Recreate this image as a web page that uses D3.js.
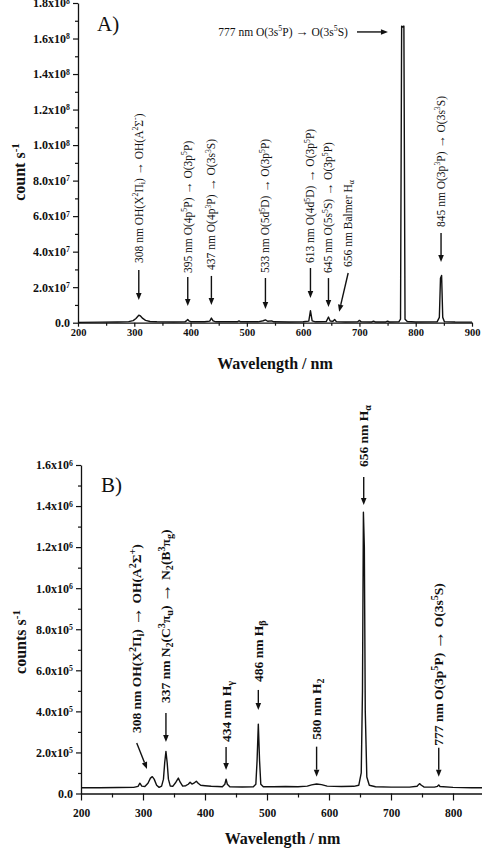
<!DOCTYPE html>
<html><head><meta charset="utf-8">
<script src="https://cdn.jsdelivr.net/npm/d3@7"></script>
<style>body{margin:0;background:#fff}svg{display:block;background:#fff}</style>
</head><body><svg id="c" width="482" height="854"></svg>
<script>
// ---------- DATA ----------
// Panel A spectrum (wavelength nm, counts s^-1)
const topWavelength = [200,240,270,290,298,303,308,311,315,320,328,340,370,390,393,395,397,401,425,434,437,440,445,483,486,489,520,529,533,537,544,548,575,600,610,613,616,622,641,645,648,653,656,659,675,697,700,703,722,725,728,747,750,753,770,773,775,777,779,781,785,800,838,842,844,846,848,851,870,900];
const topCounts = [2e5,3e5,4e5,6e5,1.2e6,2.4e6,4.2e6,3.8e6,2.4e6,1.3e6,7e5,5e5,4e5,5e5,1.2e6,1.8e6,1.0e6,5e5,5e5,9e5,2.6e6,1.0e6,5e5,5e5,1.0e6,5e5,5e5,1.1e6,1.6e6,8e5,1.0e6,5e5,4e5,5e5,9e5,6.8e6,1.0e6,5e5,6e5,3.2e6,9e5,8e5,1.8e6,6e5,4e5,5e5,1.3e6,5e5,4e5,9e5,4e5,4e5,9e5,4e5,5e5,2e6,1.67e8,1.665e8,1.67e8,2e6,7e5,4e5,5e5,3e6,2.5e7,2.66e7,3e6,6e5,4e5,3e5];
// Panel B spectrum
const botWavelength = [200,230,260,285,292,295,298,303,308,312,315,318,322,326,330,333,335,337,339,341,344,348,353,357,360,364,369,373,376,379,382,386,389,393,400,410,420,428,432,434,436,440,460,478,482,484,486,488,490,494,510,530,550,565,572,580,588,597,620,640,648,652,654,655.5,657,658.5,661,665,675,700,730,742,746,749,753,770,775,777,779,800,830,850];
const botCounts = [2.8e4,2.8e4,2.9e4,3.0e4,3.5e4,5.0e4,3.6e4,3.4e4,5.0e4,7.5e4,8.2e4,7.0e4,4.0e4,3.0e4,3.6e4,7.0e4,1.5e5,2.05e5,1.5e5,7.0e4,3.6e4,3.5e4,5.5e4,7.5e4,5.5e4,3.6e4,3.8e4,4.5e4,5.5e4,4.6e4,5.0e4,6.0e4,5.0e4,4.0e4,3.8e4,3.5e4,3.4e4,3.3e4,4.5e4,7.0e4,4.5e4,3.3e4,3.2e4,3.3e4,4.5e4,1.6e5,3.38e5,1.6e5,4.5e4,3.3e4,3.3e4,3.4e4,3.3e4,3.6e4,4.2e4,4.6e4,4.3e4,3.6e4,3.4e4,3.5e4,4.0e4,1.0e5,5.0e5,1.37e6,1.2e6,4.0e5,8.0e4,4.0e4,3.3e4,3.1e4,3.1e4,3.5e4,4.8e4,4.0e4,3.2e4,3.1e4,3.5e4,4.2e4,3.4e4,3.0e4,2.8e4,2.8e4];

// Axis ticks and labels
const topXTicks = [200,300,400,500,600,700,800,900];
const topXMinor = [250,350,450,550,650,750,850];
const topYTicks = [0,2e7,4e7,6e7,8e7,1e8,1.2e8,1.4e8,1.6e8,1.8e8];
const topYTickLabels = ["0.0","2.0x10^7","4.0x10^7","6.0x10^7","8.0x10^7","1.0x10^8","1.2x10^8","1.4x10^8","1.6x10^8","1.8x10^8"];
const topYMinor = [1e7,3e7,5e7,7e7,9e7,1.1e8,1.3e8,1.5e8,1.7e8];
const botXTicks = [200,300,400,500,600,700,800];
const botXMinor = [250,350,450,550,650,750];
const botYTicks = [0,2e5,4e5,6e5,8e5,1e6,1.2e6,1.4e6,1.6e6];
const botYTickLabels = ["0.0","2.0x10^5","4.0x10^5","6.0x10^5","8.0x10^5","1.0x10^6","1.2x10^6","1.4x10^6","1.6x10^6"];
const botYMinor = [1e5,3e5,5e5,7e5,9e5,1.1e6,1.3e6,1.5e6];

// Annotation labels (wavelength of the line, text)
const topLabels = [
  [308, "308 nm OH(X^{2}Π_{i}) → OH(A^{2}Σ^{-})"],
  [395, "395 nm O(4p^{5}P) → O(3p^{5}P)"],
  [437, "437 nm O(4p^{3}P) → O(3s^{3}S)"],
  [533, "533 nm O(5d^{5}D) → O(3p^{5}P)"],
  [613, "613 nm O(4d^{5}D) → O(3p^{5}P)"],
  [645, "645 nm O(5s^{5}S) → O(3p^{5}P)"],
  [656, "656 nm Balmer H_{α}"],
  [845, "845 nm O(3p^{3}P) → O(3s^{3}S)"],
  [777, "777 nm O(3s^{5}P) → O(3s^{5}S)"]
];
const botLabels = [
  [308, "308 nm OH(X^{2}Π_{i}) → OH(A^{2}Σ^{+})"],
  [337, "337 nm N_{2}(C^{3}π_{u}) → N_{2}(B^{3}π_{g})"],
  [434, "434 nm H_{γ}"],
  [486, "486 nm H_{β}"],
  [580, "580 nm H_{2}"],
  [656, "656 nm H_{α}"],
  [777, "777 nm O(3p^{5}P) → O(3s^{5}S)"]
];

// ---------- LAYOUT (arrow tips in data coords, offsets in px) ----------
const topArrowLayout = [
  {tipX:308, tipY:1.28e7, dx:0, dy:-30, gap:7},
  {tipX:395, tipY:0.94e7, dx:0, dy:-29, gap:4},
  {tipX:437, tipY:1.0e7, dx:0, dy:-29, gap:6},
  {tipX:533, tipY:0.77e7, dx:0, dy:-31, gap:5},
  {tipX:613, tipY:1.39e7, dx:0, dy:-30, gap:5},
  {tipX:645, tipY:0.88e7, dx:0, dy:-29, gap:5},
  {tipX:664, tipY:0.62e7, dx:9, dy:-38.7, gap:6},
  {tipX:845, tipY:3.42e7, dx:0, dy:-29, gap:6},
  {tipX:750.7, tipY:1.637e8, dx:-31, dy:0, gap:9, horizontal:true}
];
const botArrowLayout = [
  {tipX:306.5, tipY:1.19e5, dx:-10.3, dy:-26, gap:10},
  {tipX:337, tipY:2.51e5, dx:0, dy:-29, gap:10},
  {tipX:434, tipY:1.14e5, dx:0, dy:-23, gap:5},
  {tipX:486, tipY:4.07e5, dx:0, dy:-20, gap:8},
  {tipX:580, tipY:0.82e5, dx:0, dy:-30, gap:7},
  {tipX:656, tipY:14.05e5, dx:0, dy:-28, gap:10},
  {tipX:777, tipY:0.82e5, dx:0, dy:-29, gap:2}
];

// ---------- DRAW ----------
const svg = d3.select("#c");
const SERIF = "'Liberation Serif','Times New Roman',serif";

function richText(textSel, str, fs, scriptScale, arrowScale) {
  const re = /\^\{([^}]*)\}|_\{([^}]*)\}|(→)|([^^_→]+)/g;
  let m, cur = 0;
  while ((m = re.exec(str))) {
    let target, txt, size = fs;
    if (m[1] !== undefined) { target = -0.38 * fs; txt = m[1]; size = fs * scriptScale; }
    else if (m[2] !== undefined) { target = 0.22 * fs; txt = m[2]; size = fs * scriptScale; }
    else if (m[3] !== undefined) { target = 0.04 * fs; txt = m[3]; size = fs * arrowScale; }
    else { target = 0; txt = m[4]; }
    textSel.append("tspan").attr("dy", target - cur).attr("font-size", size).text(txt);
    cur = target;
  }
}

function arrow(g, x1, y1, x2, y2) {
  const ang = Math.atan2(y2 - y1, x2 - x1);
  const hl = 7, hw = 2.8;
  const bx = x2 - hl * Math.cos(ang), by = y2 - hl * Math.sin(ang);
  g.append("line").attr("x1", x1).attr("y1", y1).attr("x2", bx).attr("y2", by)
    .attr("stroke", "#111").attr("stroke-width", 1.4);
  const px = -Math.sin(ang) * hw, py = Math.cos(ang) * hw;
  g.append("path").attr("d", `M${x2},${y2}L${bx + px},${by + py}L${bx - px},${by - py}Z`).attr("fill", "#111");
}

function panel(o) {
  const g = svg.append("g").attr("font-family", SERIF);
  const x = d3.scaleLinear().domain(o.xDomain).range(o.xRange);
  const y = d3.scaleLinear().domain(o.yDomain).range(o.yRange);

  // minor ticks
  g.append("g").attr("transform", `translate(0,${o.yRange[0]})`)
    .call(d3.axisBottom(x).tickValues(o.xMinor).tickSize(o.xMinorLen).tickSizeOuter(0).tickFormat(""))
    .call(a => a.select(".domain").remove());
  g.append("g").attr("transform", `translate(${o.xRange[0]},0)`)
    .call(d3.axisLeft(y).tickValues(o.yMinor).tickSize(3).tickSizeOuter(0).tickFormat(""))
    .call(a => a.select(".domain").remove());

  // major x axis
  const xa = g.append("g").attr("transform", `translate(0,${o.yRange[0]})`)
    .call(d3.axisBottom(x).tickValues(o.xTicks).tickSize(o.xMajorLen).tickPadding(o.xPad).tickSizeOuter(0).tickFormat(d3.format("d")));
  xa.selectAll("text").attr("font-family", SERIF).attr("font-weight", "bold").attr("font-size", o.xFont).attr("fill", "#111");
  // major y axis
  const ya = g.append("g").attr("transform", `translate(${o.xRange[0]},0)`)
    .call(d3.axisLeft(y).tickValues(o.yTicks).tickSize(5).tickPadding(3).tickSizeOuter(0).tickFormat((d, i) => o.yLabels[i]));
  ya.selectAll("text").each(function () {
    const t = d3.select(this); const s = t.text();
    t.attr("font-family", SERIF).attr("font-weight", "bold").attr("font-size", 12).attr("fill", "#111");
    if (s.includes("^")) {
      const [a, b] = s.split("^");
      t.text(null);
      t.append("tspan").text(a);
      t.append("tspan").attr("dy", "-0.45em").attr("font-size", "0.65em").text(b);
    }
  });
  g.selectAll(".domain").attr("stroke", "#111").attr("stroke-width", 1.3);
  g.selectAll(".tick line").attr("stroke", "#111").attr("stroke-width", 1.2);

  // spectrum
  const pts = o.wl.map((w, i) => [w, o.counts[i]]);
  g.append("path").datum(pts)
    .attr("d", d3.line().x(d => x(d[0])).y(d => y(d[1])))
    .attr("fill", "none").attr("stroke", "#111").attr("stroke-width", 1.4).attr("stroke-linejoin", "round");

  // axis titles
  g.append("text").attr("x", (o.xRange[0] + o.xRange[1]) / 2 + o.xtOff).attr("y", o.xtY)
    .attr("text-anchor", "middle").attr("font-weight", "bold").attr("font-size", 16).attr("fill", "#111")
    .text("Wavelength / nm");
  const yt = g.append("text").attr("transform", `translate(${o.ytX},${o.ytY}) rotate(-90)`)
    .attr("text-anchor", "middle").attr("font-weight", "bold").attr("font-size", 16).attr("fill", "#111");
  yt.append("tspan").text(o.yTitle);
  yt.append("tspan").attr("dy", -6).attr("font-size", 11).text("-1");

  // panel letter
  g.append("text").attr("x", o.letterX).attr("y", o.letterY).attr("font-size", 21).attr("fill", "#111").text(o.letter);

  // annotations
  o.labels.forEach((lab, i) => {
    const L = o.layout[i];
    const tx = x(L.tipX), ty = y(L.tipY);
    const sx = tx + L.dx, sy = ty + L.dy;
    arrow(g, sx, sy, tx, ty);
    const fs = o.annFont;
    if (L.horizontal) {
      const t = g.append("text").attr("x", sx - L.gap).attr("y", sy + 0.32 * fs)
        .attr("text-anchor", "end").attr("font-size", fs).attr("font-weight", o.annWeight).attr("fill", "#111");
      richText(t, lab[1], fs, o.scriptScale, o.arrowScale);
    } else {
      const t = g.append("text")
        .attr("transform", `translate(${sx + 0.33 * fs},${sy - L.gap}) rotate(-90)`)
        .attr("text-anchor", "start").attr("font-size", fs).attr("font-weight", o.annWeight).attr("fill", "#111");
      richText(t, lab[1], fs, o.scriptScale, o.arrowScale);
    }
  });
}

panel({
  wl: topWavelength, counts: topCounts,
  xDomain: [200, 900], xRange: [78, 472], yDomain: [0, 1.8e8], yRange: [322.7, 3],
  xTicks: topXTicks, xMinor: topXMinor, yTicks: topYTicks, yLabels: topYTickLabels, yMinor: topYMinor,
  xMajorLen: 4, xMinorLen: 3, xPad: 2, xFont: 10.5,
  xtY: 369, xtOff: 0, ytX: 25, ytY: 172, yTitle: "count s",
  letter: "A)", letterX: 97, letterY: 31,
  labels: topLabels, layout: topArrowLayout, annFont: 11.5, annWeight: "normal", scriptScale: 0.68, arrowScale: 1.15
});
panel({
  wl: botWavelength, counts: botCounts,
  xDomain: [200, 850], xRange: [81, 484], yDomain: [0, 1.6e6], yRange: [793.5, 465],
  xTicks: botXTicks, xMinor: botXMinor, yTicks: botYTicks, yLabels: botYTickLabels, yMinor: botYMinor,
  xMajorLen: 7, xMinorLen: 4, xPad: 8, xFont: 11.5,
  xtY: 844, xtOff: 0, ytX: 26, ytY: 642, yTitle: "counts s",
  letter: "B)", letterX: 101, letterY: 492,
  labels: botLabels, layout: botArrowLayout, annFont: 13.5, annWeight: "bold", scriptScale: 0.75, arrowScale: 1.4
});
</script>
</body></html>
